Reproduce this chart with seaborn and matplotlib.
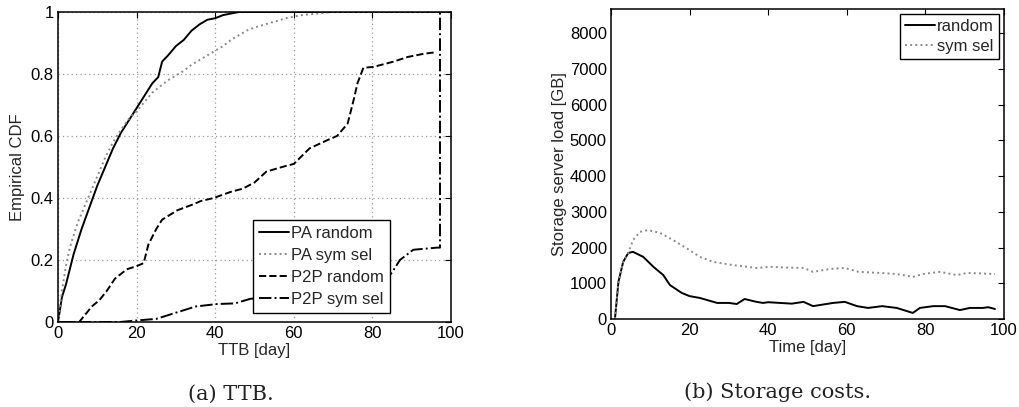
import numpy as np
import pandas as pd
import matplotlib
matplotlib.use("Agg")
import matplotlib.pyplot as plt
import seaborn as sns

# ---------------- data: (a) TTB empirical CDFs ----------------
pa_random_x = [0, 0.5, 1, 2, 3, 4, 5, 6, 8, 10, 12, 14, 16, 18, 20, 22, 24, 25.5,
               26.5, 28, 30, 32, 34, 36, 38, 40, 42, 44, 46, 50, 100]
pa_random_y = [0, 0.04, 0.08, 0.12, 0.17, 0.22, 0.26, 0.30, 0.37, 0.44, 0.50, 0.56,
               0.61, 0.65, 0.69, 0.73, 0.77, 0.79, 0.84, 0.86, 0.89, 0.91, 0.94, 0.96,
               0.975, 0.98, 0.99, 0.995, 1.0, 1.0, 1.0]

pa_sym_x = [0, 1, 2, 3, 4, 5, 6, 8, 10, 12, 14, 16, 18, 20, 22, 24, 26, 28, 30, 32,
            34, 36, 38, 40, 42, 44, 46, 48, 50, 54, 58, 62, 66, 70, 100]
pa_sym_y = [0, 0.10, 0.18, 0.24, 0.28, 0.32, 0.35, 0.41, 0.47, 0.53, 0.58, 0.62,
            0.655, 0.68, 0.71, 0.74, 0.76, 0.78, 0.795, 0.81, 0.83, 0.845, 0.86,
            0.875, 0.89, 0.91, 0.925, 0.94, 0.95, 0.965, 0.98, 0.99, 0.995, 1.0, 1.0]

p2p_random_x = [0, 5.4, 8.6, 10.5, 12.4, 14.5, 17.5, 20, 21.8, 23, 25, 26.5, 30.3,
                34.5, 36.3, 39.6, 44, 47, 50, 53, 57, 60, 64, 68.6, 71, 73.7, 75.3,
                76.2, 77.7, 80.3, 85.4, 89, 93, 96]
p2p_random_y = [0, 0, 0.05, 0.07, 0.10, 0.14, 0.17, 0.18, 0.19, 0.25, 0.30, 0.33,
                0.36, 0.38, 0.39, 0.40, 0.42, 0.43, 0.45, 0.485, 0.50, 0.51, 0.56,
                0.587, 0.60, 0.64, 0.72, 0.77, 0.82, 0.823, 0.84, 0.855, 0.865, 0.87]

p2p_sym_x = [0, 15.8, 20, 25, 30, 35, 40.5, 45, 49, 55, 60, 65, 70, 75, 80, 83, 85,
             87, 90.4, 96.5, 97.2, 97.2]
p2p_sym_y = [0, 0, 0.005, 0.01, 0.03, 0.05, 0.058, 0.06, 0.075, 0.08, 0.085, 0.09,
             0.10, 0.11, 0.12, 0.13, 0.16, 0.20, 0.233, 0.24, 0.24, 1.0]

cdf_labels = ["PA random", "PA sym sel", "P2P random", "P2P sym sel"]
cdf_xticks = [0, 20, 40, 60, 80, 100]
cdf_yticks = [0, 0.2, 0.4, 0.6, 0.8, 1.0]
cdf_yticklabels = ["0", "0.2", "0.4", "0.6", "0.8", "1"]

# ---------------- data: (b) storage server load ----------------
load_random_x = [1, 1.9, 3.1, 4.4, 5.6, 8.2, 10.8, 13.3, 15, 18, 20, 22.6, 27, 30,
                 32, 34, 37, 38.7, 40, 43, 46, 49, 51.4, 56.5, 59.5, 62.6, 65.4, 69,
                 72.7, 76.8, 78.6, 82, 85, 88.8, 91.3, 94.6, 96, 97.7]
load_random_y = [0, 1045, 1600, 1850, 1880, 1740, 1460, 1230, 950, 730, 640, 590,
                 450, 450, 420, 560, 480, 450, 470, 450, 430, 480, 360, 450, 480,
                 360, 310, 360, 310, 170, 310, 360, 360, 250, 310, 310, 330, 280]

load_sym_x = [1, 1.9, 3.1, 4.4, 5.6, 7.4, 9.4, 12.5, 15.8, 20, 22.6, 26, 31, 37,
              40.5, 44.8, 49, 51.4, 55.7, 59.5, 63, 68.4, 72.7, 76.8, 79.4, 83.7, 88,
              90.6, 97.7]
load_sym_y = [0, 1045, 1600, 1850, 2210, 2440, 2490, 2410, 2210, 1930, 1740, 1600,
              1510, 1430, 1460, 1440, 1430, 1320, 1400, 1430, 1320, 1290, 1260, 1180,
              1260, 1320, 1230, 1290, 1260]

load_labels = ["random", "sym sel"]
load_xticks = [0, 20, 40, 60, 80, 100]
load_yticks = [0, 1000, 2000, 3000, 4000, 5000, 6000, 7000, 8000]

captions = ["(a) TTB.", "(b) Storage costs."]

# ---------------- style ----------------
sns.set_style("white")
plt.rcParams["font.family"] = ["Liberation Sans", "DejaVu Sans"]
plt.rcParams["font.size"] = 12
plt.rcParams["xtick.direction"] = "in"
plt.rcParams["ytick.direction"] = "in"
plt.rcParams["axes.edgecolor"] = "black"
plt.rcParams["axes.linewidth"] = 1.1

fig = plt.figure(figsize=(10.2, 4.07), dpi=100)
ax1 = fig.add_axes([58 / 1020, 1 - 322 / 407, 393 / 1020, 310 / 407])
ax2 = fig.add_axes([611 / 1020, 1 - 319 / 407, 393 / 1020, 310 / 407])

lw = 1.4
gray = "#8a8a8a"

series_a = [
    (pa_random_x, pa_random_y, "-", "black"),
    (pa_sym_x, pa_sym_y, ":", gray),
    (p2p_random_x, p2p_random_y, "--", "black"),
    (p2p_sym_x, p2p_sym_y, "-.", "black"),
]
for (xs, ys, ls, col), lab in zip(series_a, cdf_labels):
    df = pd.DataFrame({"x": xs, "y": ys})
    sns.lineplot(data=df, x="x", y="y", ax=ax1, color=col, linestyle=ls,
                 linewidth=lw, label=lab, sort=False, estimator=None)

ax1.set_xlim(0, 100)
ax1.set_ylim(0, 1)
ax1.set_xticks(cdf_xticks)
ax1.set_yticks(cdf_yticks)
ax1.set_yticklabels(cdf_yticklabels)
ax1.grid(True, linestyle=(0, (1, 2.5)), color="#9a9a9a", linewidth=0.9)
ax1.set_xlabel("TTB [day]", labelpad=1)
ax1.set_ylabel("Empirical CDF", labelpad=4)
ax1.tick_params(top=True, right=True, length=4, width=0.8, pad=3,
                labelsize=12, colors="black")
leg1 = ax1.legend(loc="lower right", bbox_to_anchor=(0.845, 0.03),
                  frameon=True, fancybox=False, edgecolor="black",
                  handlelength=1.8, handletextpad=0.15, labelspacing=0.42,
                  borderpad=0.35, borderaxespad=0, fontsize=12)
leg1.get_frame().set_linewidth(1.0)
leg1.get_frame().set_alpha(1)

series_b = [
    (load_random_x, load_random_y, "-", "black"),
    (load_sym_x, load_sym_y, ":", gray),
]
for (xs, ys, ls, col), lab in zip(series_b, load_labels):
    df = pd.DataFrame({"x": xs, "y": ys})
    sns.lineplot(data=df, x="x", y="y", ax=ax2, color=col, linestyle=ls,
                 linewidth=lw, label=lab, sort=False, estimator=None)

ax2.set_xlim(0, 100)
ax2.set_ylim(0, 8680)
ax2.set_xticks(load_xticks)
ax2.set_yticks(load_yticks)
ax2.set_xlabel("Time [day]", labelpad=1)
ax2.set_ylabel("Storage server load [GB]", labelpad=2)
ax2.tick_params(top=True, right=True, length=4, width=0.8, pad=3,
                labelsize=12, colors="black")
leg2 = ax2.legend(loc="upper right", bbox_to_anchor=(0.987, 0.984),
                  frameon=True, fancybox=False, edgecolor="black",
                  handlelength=1.8, handletextpad=0.15, labelspacing=0.3,
                  borderpad=0.3, borderaxespad=0, fontsize=12)
leg2.get_frame().set_linewidth(1.0)
leg2.get_frame().set_alpha(1)

for ax in (ax1, ax2):
    for s in ax.spines.values():
        s.set_visible(True)
        s.set_color("black")

cap_font = dict(fontsize=15, family=["DejaVu Serif"], color="#222222")
fig.text(231 / 1020, 1 - 394 / 407, captions[0], ha="center", va="center", **cap_font)
fig.text(778 / 1020, 1 - 392 / 407, captions[1], ha="center", va="center", **cap_font)

fig.savefig("out.png", dpi=100)
